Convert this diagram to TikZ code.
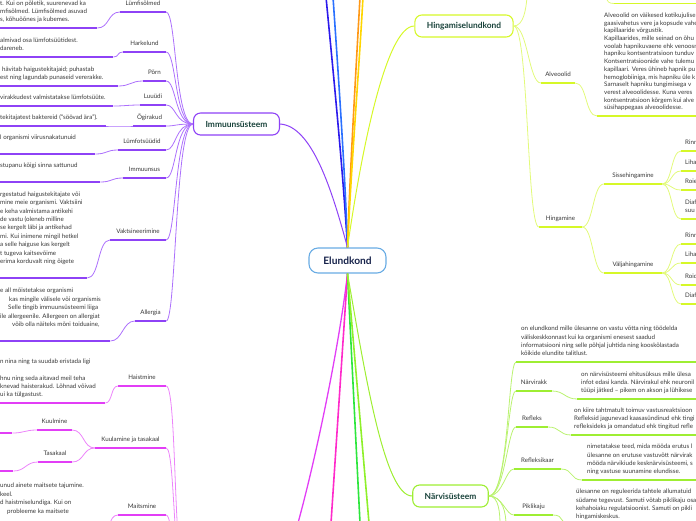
\documentclass[tikz,border=0pt]{standalone}
\usepackage{fontspec}
\setmainfont{Lato}
\usepackage{tikz}

\definecolor{hubtext}{RGB}{24,66,58}
\definecolor{roottext}{RGB}{22,34,74}
\definecolor{rootframe}{RGB}{105,172,228}
\definecolor{immuline}{RGB}{142,66,246}
\definecolor{immucurve}{RGB}{172,112,252}
\definecolor{meelline}{RGB}{226,62,246}
\definecolor{meelcurve}{RGB}{236,132,250}
\definecolor{hingline}{RGB}{214,248,40}
\definecolor{hingcurve}{RGB}{226,250,122}
\definecolor{narvline}{RGB}{158,238,50}
\definecolor{narvcurve}{RGB}{186,242,112}
\definecolor{sinine}{RGB}{44,26,236}
\definecolor{helesinine}{RGB}{42,112,255}
\definecolor{oranz}{RGB}{255,152,22}
\definecolor{kollane}{RGB}{255,214,0}
\definecolor{roosa}{RGB}{255,42,202}
\definecolor{roheline}{RGB}{44,230,60}
\definecolor{laim}{RGB}{142,240,42}

% text block of given width, left aligned, baseline on its last line
\newcommand{\plokk}[2]{\hbox to #1pt{\begin{tabular}[b]{@{}l@{}}#2\end{tabular}\hfil}}

\begin{document}
\begin{tikzpicture}[x=1pt,y=1pt,yscale=-1,
  txt/.style={font=\fontsize{6.2}{8.4}\selectfont, text=black!78, inner sep=0pt},
  lbl/.style={txt, anchor=south, text height=5pt, text depth=6pt, minimum width=#1pt},
  blk/.style={txt, anchor=south west, text depth=6pt},
  hub/.style={draw=#1, line width=1.1pt, rounded corners=7pt, fill=white, text=hubtext,
    font=\bfseries\fontsize{8.4}{10}\selectfont, minimum height=22pt, inner xsep=12pt},
  ul/.style={draw=#1, line width=1.9pt},
  cn/.style={draw=#1, line width=0.8pt},
  mainln/.style={draw=#1, line width=1.6pt},
]
\useasboundingbox (0,0) rectangle (696,520);
\clip (0,0) rectangle (696,520);

% Text Node
\node[draw=rootframe, line width=1.1pt, rounded corners=9pt, fill=white, text=roottext,
  font=\bfseries\fontsize{10.2}{12}\selectfont, minimum width=77pt, minimum height=25pt] (elund) at (347.5,260.5) {Elundkond};
% Text Node
\node[hub=immuline] (immuun) at (236.5,124) {Immuunsüsteem};
% Text Node
\node[hub=hingline] (hing) at (464,26) {Hingamiselundkond};
% Text Node
\node[hub=narvline] (narv) at (450.5,496) {Närvisüsteem};

\coordinate (up1) at (326,-3);
\coordinate (up2) at (333,-3);
\coordinate (up3) at (360,-3);
\coordinate (up4) at (363,-3);
\coordinate (dn1) at (298,523);
\coordinate (dn2) at (331,523);
\coordinate (dn3) at (360,523);
\coordinate (dn4) at (369,523);

%Curve Lines
\draw[mainln=sinine] (elund.north) .. controls (343,170) and (333,70) .. (up1);
\draw[mainln=helesinine] (elund.north) .. controls (345,170) and (338,70) .. (up2);
\draw[mainln=oranz] (elund.north) .. controls (350,170) and (356,70) .. (up3);
\draw[mainln=kollane] (elund.north) .. controls (351,170) and (359,70) .. (up4);
\draw[cn=immuline, line width=1pt] (elund.north) .. controls (332,190) and (312,126) .. (immuun.east);
\draw[cn=hingline, line width=1pt] (elund.north) .. controls (360,160) and (385,26) .. (hing.west);
\draw[cn=meelline, line width=1.3pt] (elund.south) .. controls (340,340) and (318,450) .. (dn1);
\draw[mainln=roosa] (elund.south) -- (dn2);
\draw[mainln=roheline] (elund.south) -- (dn3);
\draw[mainln=laim] (elund.south) -- (dn4);
\draw[cn=narvline, line width=1pt] (elund.south) .. controls (366,380) and (385,496) .. (narv.west);

%% Immuunsusteem
\node[lbl=46] (lsolm) at (143,12) {Lümfisõlmed};
\node[lbl=43] (hark) at (144.5,52) {Harkelund};
\node[lbl=23] (porn) at (154.5,81) {Põrn};
\node[lbl=26] (luu) at (153,105) {Luuüdi};
\node[lbl=33] (ogi) at (149.5,126) {Õgirakud};
\node[lbl=48] (lotsu) at (142,150) {Lümfotsüüdid};
\node[lbl=43] (imsus) at (144.5,178) {Immuunsus};
\node[lbl=56] (vakts) at (138,240) {Vaktsineerimine};
\node[lbl=31] (allerg) at (150.5,321) {Allergia};

\node[blk] (lsolmT) at (0,28) {\plokk{97}{t. Kui on põletik, suurenevad ka\\mfisõlmed. Lümfisõlmed asuvad\\s, kõhuõõnes ja kubemes.}};
\node[blk] (harkT) at (0,57) {\plokk{113}{almivad osa lümfotsüütidest.\\dareneb.}};
\node[blk] (pornT) at (0,86) {\plokk{118}{\hspace{2pt}hävitab haigustekitajaid; puhastab\\est ning lagundab punaseid vererakke.}};
\node[blk] (luuT) at (0,106) {\plokk{113}{virakkudest valmistatakse lümfotsüüte.}};
\node[blk] (ogiT) at (0,126) {\plokk{106}{tekitajatest baktereid (“söövad ära”).}};
\node[blk] (lotsuT) at (0,154) {\plokk{95}{l organismi viirusnakatunuid\\ \mbox{}}};
\node[blk] (imsusT) at (0,182) {\plokk{100}{stupanu kõigi sinna sattunud\\ \mbox{}}};
\node[blk] (vaktsT) at (0,278) {\plokk{87}{rgestatud haigustekitajate või\\mine meie organismi. Vaktsiini\\e keha valmistama antikehi\\de vastu (oleneb milline\\se kergelt läbi ja antikehad\\mi. Kui inimene mingil hetkel\\a selle haiguse kas kergelt\\t tugeva kaitsevõime\\erima korduvalt ning õigete\\ \mbox{}}};
\node[blk] (allergT) at (0,341) {\plokk{110}{e all mõistetakse organismi\\\hspace{9pt}kas mingile välisele või organismis\\\hspace{8pt}Selle tingib immuunsüsteemi liiga\\ile allergeenile. Allergeen on allergiat\\\hspace{12pt}võib olla näiteks mõni toiduaine,\\ \mbox{}}};

%Straight Lines
\draw[ul=immuline] (lsolm.south west) -- (lsolm.south east);
\draw[ul=immuline] (hark.south west) -- (hark.south east);
\draw[ul=immuline] (porn.south west) -- (porn.south east);
\draw[ul=immuline] (luu.south west) -- (luu.south east);
\draw[ul=immuline] (ogi.south west) -- (ogi.south east);
\draw[ul=immuline] (lotsu.south west) -- (lotsu.south east);
\draw[ul=immuline] (imsus.south west) -- (imsus.south east);
\draw[ul=immuline] (vakts.south west) -- (vakts.south east);
\draw[ul=immuline] (allerg.south west) -- (allerg.south east);
\draw[ul=immuline] (lsolmT.south west) -- (lsolmT.south east);
\draw[ul=immuline] (harkT.south west) -- (harkT.south east);
\draw[ul=immuline] (pornT.south west) -- (pornT.south east);
\draw[ul=immuline] (luuT.south west) -- (luuT.south east);
\draw[ul=immuline] (ogiT.south west) -- (ogiT.south east);
\draw[ul=immuline] (lotsuT.south west) -- (lotsuT.south east);
\draw[ul=immuline] (imsusT.south west) -- (imsusT.south east);
\draw[ul=immuline] (vaktsT.south west) -- (vaktsT.south east);
\draw[ul=immuline] (allergT.south west) -- (allergT.south east);

%Curve Lines
\draw[cn=immucurve] (immuun.west) .. controls +(-18,0) and +(10,0) .. (lsolm.south east);
\draw[cn=immucurve] (immuun.west) .. controls +(-18,0) and +(10,0) .. (hark.south east);
\draw[cn=immucurve] (immuun.west) .. controls +(-18,0) and +(10,0) .. (porn.south east);
\draw[cn=immucurve] (immuun.west) .. controls +(-18,0) and +(10,0) .. (luu.south east);
\draw[cn=immucurve] (immuun.west) .. controls +(-18,0) and +(10,0) .. (ogi.south east);
\draw[cn=immucurve] (immuun.west) .. controls +(-18,0) and +(10,0) .. (lotsu.south east);
\draw[cn=immucurve] (immuun.west) .. controls +(-18,0) and +(10,0) .. (imsus.south east);
\draw[cn=immucurve] (immuun.west) .. controls +(-18,0) and +(10,0) .. (vakts.south east);
\draw[cn=immucurve] (immuun.west) .. controls +(-18,0) and +(10,0) .. (allerg.south east);
\draw[cn=immucurve] (lsolmT.south east) .. controls +(12,0) and +(-12,0) .. (lsolm.south west);
\draw[cn=immucurve] (harkT.south east) .. controls +(6,0) and +(-6,0) .. (hark.south west);
\draw[cn=immucurve] (pornT.south east) .. controls +(12,0) and +(-12,0) .. (porn.south west);
\draw[cn=immucurve] (luuT.south east) .. controls +(12,0) and +(-12,0) .. (luu.south west);
\draw[cn=immucurve] (ogiT.south east) .. controls +(12,0) and +(-12,0) .. (ogi.south west);
\draw[cn=immucurve] (lotsuT.south east) .. controls +(12,0) and +(-12,0) .. (lotsu.south west);
\draw[cn=immucurve] (imsusT.south east) .. controls +(12,0) and +(-12,0) .. (imsus.south west);
\draw[cn=immucurve] (vaktsT.south east) .. controls +(12,0) and +(-12,0) .. (vakts.south west);
\draw[cn=immucurve] (allergT.south east) .. controls +(12,0) and +(-12,0) .. (allerg.south west);

%% Meeleelundid (below the frame)
\coordinate (meel) at (190,600);
\node[lbl=48] (haist) at (142,386) {Haistmine};
\node[lbl=71] (kuul) at (130.5,448) {Kuulamine ja tasakaal};
\node[lbl=35] (kuulm) at (54.5,430) {Kuulmine};
\node[lbl=34] (tasak) at (55,462) {Tasakaal};
\node[lbl=48] (maits) at (142,515) {Maitsmine};
\node[blk] (haistT) at (0,403) {\plokk{105}{n nina ning ta suudab eristada ligi\\ \mbox{}\\hnu ning seda aitavad meil teha\\knevad haisterakud. Lõhnad võivad\\ui ka tülgastust.}};
\node[blk] (kuulmT) at (0,433) {\plokk{12}{\mbox{}}};
\node[blk] (tasakT) at (0,471) {\plokk{13}{\mbox{}}};
\node[blk] (maitsT) at (0,536) {\plokk{100}{unud ainete maitsete tajumine.\\keel.\\d haistmiselundiga. Kui on\\\hspace{7pt}probleeme ka maitsete\\ \mbox{}\\ \mbox{}}};

%Straight Lines
\draw[ul=meelline] (haist.south west) -- (haist.south east);
\draw[ul=meelline] (kuul.south west) -- (kuul.south east);
\draw[ul=meelline] (kuulm.south west) -- (kuulm.south east);
\draw[ul=meelline] (tasak.south west) -- (tasak.south east);
\draw[ul=meelline] (maits.south west) -- (maits.south east);
\draw[ul=meelline] (haistT.south west) -- (haistT.south east);
\draw[ul=meelline] (kuulmT.south west) -- (kuulmT.south east);
\draw[ul=meelline] (tasakT.south west) -- (tasakT.south east);
\draw[ul=meelline] (maitsT.south west) -- (maitsT.south east);

%Curve Lines
\draw[cn=meelcurve] (meel) .. controls (172,600) and (178,386) .. (haist.south east);
\draw[cn=meelcurve] (meel) .. controls (172,600) and (176,448) .. (kuul.south east);
\draw[cn=meelcurve] (meel) .. controls (172,600) and (174,515) .. (maits.south east);
\draw[cn=meelcurve] (kuul.south west) .. controls +(-12,0) and +(12,0) .. (kuulm.south east);
\draw[cn=meelcurve] (kuul.south west) .. controls +(-12,0) and +(12,0) .. (tasak.south east);
\draw[cn=meelcurve] (haistT.south east) .. controls +(7,0) and +(-7,0) .. (haist.south west);
\draw[cn=meelcurve] (kuulmT.south east) .. controls +(12,0) and +(-12,0) .. (kuulm.south west);
\draw[cn=meelcurve] (tasakT.south east) .. controls +(12,0) and +(-12,0) .. (tasak.south west);
\draw[cn=meelcurve] (maitsT.south east) .. controls +(10,0) and +(-10,0) .. (maits.south west);

%% Hingamiselundkond
\coordinate (hup) at (527,-3);
\coordinate (topA) at (606,-4);
\coordinate (topC) at (614,3.5);
\coordinate (topB) at (700,3.5);
\node[lbl=34] (alv) at (558,83) {Alveoolid};
\node[blk, inner xsep=7pt, font=\fontsize{6.2}{7.7}\selectfont] (alvT) at (597,116) {\plokk{200}{Alveoolid on väikesed kotikujulise\\gaasivahetus vere ja kopsude vahel\\kapillaaride võrgustik.\\Kapillaarides, mille seinad on õhu\\voolab hapnikuvaene ehk venoosne\\hapniku kontsentratsioon tunduv\\Kontsentratsioonide vahe tulemu\\kapillaari. Veres ühineb hapnik pu\\hemoglobiiniga, mis hapniku üle k\\Sarnaselt hapniku tungimisega v\\verest alveoolidesse. Kuna veres\\kontsentratsioon kõrgem kui alve\\süsihappegaas alveoolidesse.}};
\node[lbl=43] (hinga) at (560.5,227) {Hingamine};
\node[lbl=58] (sisse) at (633,184) {Sissehingamine};
\node[lbl=58] (valja) at (633,273) {Väljahingamine};
\node[blk, inner xsep=4pt] (s1) at (681,151) {\plokk{40}{Rinn}};
\node[blk, inner xsep=4pt] (s2) at (681,171) {\plokk{40}{Liha}};
\node[blk, inner xsep=4pt] (s3) at (681,190) {\plokk{40}{Roie}};
\node[blk, inner xsep=4pt] (s4) at (681,219) {\plokk{40}{Diaf\\suu}};
\node[blk, inner xsep=4pt] (v1) at (681,244) {\plokk{40}{Rinn}};
\node[blk, inner xsep=4pt] (v2) at (681,263) {\plokk{40}{Liha}};
\node[blk, inner xsep=4pt] (v3) at (681,285) {\plokk{40}{Roid}};
\node[blk, inner xsep=4pt] (v4) at (681,304) {\plokk{40}{Diaf}};

%Straight Lines
\draw[ul=hingline] (topC) -- (topB);
\draw[ul=hingline] (alv.south west) -- (alv.south east);
\draw[ul=hingline] (alvT.south west) -- (alvT.south east);
\draw[ul=hingline] (hinga.south west) -- (hinga.south east);
\draw[ul=hingline] (sisse.south west) -- (sisse.south east);
\draw[ul=hingline] (valja.south west) -- (valja.south east);
\draw[ul=hingline] (s1.south west) -- (s1.south east);
\draw[ul=hingline] (s2.south west) -- (s2.south east);
\draw[ul=hingline] (s3.south west) -- (s3.south east);
\draw[ul=hingline] (s4.south west) -- (s4.south east);
\draw[ul=hingline] (v1.south west) -- (v1.south east);
\draw[ul=hingline] (v2.south west) -- (v2.south east);
\draw[ul=hingline] (v3.south west) -- (v3.south east);
\draw[ul=hingline] (v4.south west) -- (v4.south east);

%Curve Lines
\draw[cn=hingcurve] (hing.east) .. controls +(10,0) and +(-1,12) .. (hup);
\draw[cn=hingcurve] (topA) .. controls +(1,6) and +(-5,0) .. (topC);
\draw[cn=hingcurve] (hing.east) .. controls +(14,0) and +(-12,0) .. (alv.south west);
\draw[cn=hingcurve] (hing.east) .. controls +(15,0) and +(-12,0) .. (hinga.south west);
\draw[cn=hingcurve] (alv.south east) .. controls +(12,0) and +(-12,0) .. (alvT.south west);
\draw[cn=hingcurve] (hinga.south east) .. controls +(11,0) and +(-11,0) .. (sisse.south west);
\draw[cn=hingcurve] (hinga.south east) .. controls +(11,0) and +(-11,0) .. (valja.south west);
\draw[cn=hingcurve] (sisse.south east) .. controls +(10,0) and +(-10,0) .. (s1.south west);
\draw[cn=hingcurve] (sisse.south east) .. controls +(10,0) and +(-10,0) .. (s2.south west);
\draw[cn=hingcurve] (sisse.south east) .. controls +(10,0) and +(-10,0) .. (s3.south west);
\draw[cn=hingcurve] (sisse.south east) .. controls +(10,0) and +(-10,0) .. (s4.south west);
\draw[cn=hingcurve] (valja.south east) .. controls +(10,0) and +(-10,0) .. (v1.south west);
\draw[cn=hingcurve] (valja.south east) .. controls +(10,0) and +(-10,0) .. (v2.south west);
\draw[cn=hingcurve] (valja.south east) .. controls +(10,0) and +(-10,0) .. (v3.south west);
\draw[cn=hingcurve] (valja.south east) .. controls +(10,0) and +(-10,0) .. (v4.south west);

%% Narvisusteem
\coordinate (narvdn1) at (500,525);
\coordinate (narvdn2) at (506,525);
\node[blk, inner xsep=5pt] (narvT) at (516,362) {\plokk{200}{on elundkond mille ülesanne on vastu võtta ning töödelda\\väliskeskkonnast kui ka organismi enesest saadud\\informatsiooni ning selle põhjal juhtida ning kooskõlastada\\kõikide elundite talitlust.}};
\node[lbl=36] (narvr) at (534,391) {Närvirakk};
\node[blk, inner xsep=4pt] (narvrT) at (577,399) {\plokk{200}{on närvisüsteemi ehitusüksus mille ülesa\\infot edasi kanda. Närvirakul ehk neuronil\\tüüpi jätked – pikem on akson ja lühikese}};
\node[lbl=32] (refl) at (532,427) {Refleks};
\node[blk, inner xsep=3pt] (reflT) at (571,435) {\plokk{200}{on kiire tahtmatult toimuv vastusreaktsioon\\Refleksid jagunevad kaasasündinud ehk tingi\\refleksideks ja omandatud ehk tingitud refle}};
\node[lbl=47] (kaar) at (537.5,469) {Refleksikaar};
\node[blk, inner xsep=5pt] (kaarT) at (582,480) {\plokk{200}{nimetatakse teed, mida mööda erutus l\\ülesanne on erutuse vastuvõtt närvirak\\mööda närvikiude kesknärvisüsteemi, s\\ning vastuse suunamine elundisse.}};
\node[lbl=39] (pik) at (533.5,515) {Piklikaju};
\node[blk, inner xsep=5pt] (pikT) at (571,525) {\plokk{200}{ülesanne on reguleerida tahtele allumatuid\\südame tegevust. Samuti võtab piklikaju osa\\kehahoiaku regulatsioonist. Samuti on pikli\\hingamiskeskus.}};

%Straight Lines
\draw[ul=narvline] (narvT.south west) -- (narvT.south east);
\draw[ul=narvline] (narvr.south west) -- (narvr.south east);
\draw[ul=narvline] (narvrT.south west) -- (narvrT.south east);
\draw[ul=narvline] (refl.south west) -- (refl.south east);
\draw[ul=narvline] (reflT.south west) -- (reflT.south east);
\draw[ul=narvline] (kaar.south west) -- (kaar.south east);
\draw[ul=narvline] (kaarT.south west) -- (kaarT.south east);
\draw[ul=narvline] (pik.south west) -- (pik.south east);
\draw[ul=narvline] (pikT.south west) -- (pikT.south east);

%Curve Lines
\draw[cn=narvcurve] (narv.east) .. controls +(20,0) and +(-8,0) .. (narvT.south west);
\draw[cn=narvcurve] (narv.east) .. controls +(18,0) and +(-8,0) .. (narvr.south west);
\draw[cn=narvcurve] (narv.east) .. controls +(16,0) and +(-8,0) .. (refl.south west);
\draw[cn=narvcurve] (narv.east) .. controls +(14,0) and +(-8,0) .. (kaar.south west);
\draw[cn=narvcurve] (narv.east) .. controls +(14,0) and +(-8,0) .. (pik.south west);
\draw[cn=narvcurve] (narv.east) .. controls +(10,0) and +(0,-12) .. (narvdn1);
\draw[cn=narvcurve] (narv.east) .. controls +(14,0) and +(0,-12) .. (narvdn2);
\draw[cn=narvcurve] (narvr.south east) .. controls +(12,0) and +(-12,0) .. (narvrT.south west);
\draw[cn=narvcurve] (refl.south east) .. controls +(12,0) and +(-12,0) .. (reflT.south west);
\draw[cn=narvcurve] (kaar.south east) .. controls +(12,0) and +(-12,0) .. (kaarT.south west);
\draw[cn=narvcurve] (pik.south east) .. controls +(12,0) and +(-12,0) .. (pikT.south west);

\end{tikzpicture}
\end{document}
